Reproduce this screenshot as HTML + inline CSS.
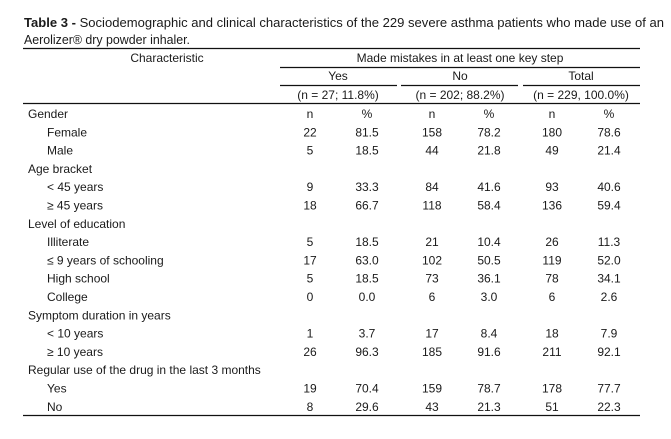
<!DOCTYPE html>
<html><head><meta charset="utf-8"><style>
html,body{margin:0;padding:0;background:#fff;}
svg{display:block;}
text{font-family:"Liberation Sans",sans-serif;font-size:12px;fill:#1a1a1a;}
.c{text-anchor:middle;}
</style></head><body>
<svg width="671" height="439" viewBox="0 0 671 439" xmlns="http://www.w3.org/2000/svg">
<text x="24" y="27" textLength="640" lengthAdjust="spacingAndGlyphs" style="font-size:13px"><tspan font-weight="bold">Table 3 - </tspan>Sociodemographic and clinical characteristics of the 229 severe asthma patients who made use of an</text>
<text x="24" y="44" textLength="166" lengthAdjust="spacingAndGlyphs" style="font-size:13px">Aerolizer® dry powder inhaler.</text>
<g stroke="#111" stroke-width="1.3">
<line x1="23" y1="48.5" x2="640" y2="48.5"/>
<line x1="280" y1="67.5" x2="640" y2="67.5"/>
<line x1="280" y1="85.5" x2="397" y2="85.5"/>
<line x1="401" y1="85.5" x2="518" y2="85.5"/>
<line x1="523" y1="85.5" x2="640" y2="85.5"/>
<line x1="23" y1="103.5" x2="640" y2="103.5"/>
<line x1="23" y1="415.5" x2="640" y2="415.5"/>
</g>
<text x="167" y="62" class="c">Characteristic</text>
<text x="460" y="62" class="c">Made mistakes in at least one key step</text>
<text x="338" y="80" class="c">Yes</text>
<text x="460" y="80" class="c">No</text>
<text x="581" y="80" class="c">Total</text>
<text x="338" y="99" class="c">(n = 27; 11.8%)</text>
<text x="460" y="99" class="c">(n = 202; 88.2%)</text>
<text x="581" y="99" class="c">(n = 229, 100.0%)</text>
<g id="rows"></g>
</svg>
<script>
var rows=[
["Gender",0,["n","%","n","%","n","%"]],
["Female",1,["22","81.5","158","78.2","180","78.6"]],
["Male",1,["5","18.5","44","21.8","49","21.4"]],
["Age bracket",0,[]],
["< 45 years",1,["9","33.3","84","41.6","93","40.6"]],
["≥ 45 years",1,["18","66.7","118","58.4","136","59.4"]],
["Level of education",0,[]],
["Illiterate",1,["5","18.5","21","10.4","26","11.3"]],
["≤ 9 years of schooling",1,["17","63.0","102","50.5","119","52.0"]],
["High school",1,["5","18.5","73","36.1","78","34.1"]],
["College",1,["0","0.0","6","3.0","6","2.6"]],
["Symptom duration in years",0,[]],
["< 10 years",1,["1","3.7","17","8.4","18","7.9"]],
["≥ 10 years",1,["26","96.3","185","91.6","211","92.1"]],
["Regular use of the drug in the last 3 months",0,[]],
["Yes",1,["19","70.4","159","78.7","178","77.7"]],
["No",1,["8","29.6","43","21.3","51","22.3"]]];
var xs=[310,367,432,489,552,609];
var g=document.getElementById("rows"),ns="http://www.w3.org/2000/svg",h="";
rows.forEach(function(r,i){
 var y=118+i*18.3;
 h+='<text x="'+(r[1]?47:28)+'" y="'+y+'">'+r[0].replace(/</g,"&lt;")+'</text>';
 r[2].forEach(function(v,j){h+='<text class="c" x="'+xs[j]+'" y="'+y+'">'+v+'</text>';});
});
g.innerHTML=h;
</script>
</body></html>
